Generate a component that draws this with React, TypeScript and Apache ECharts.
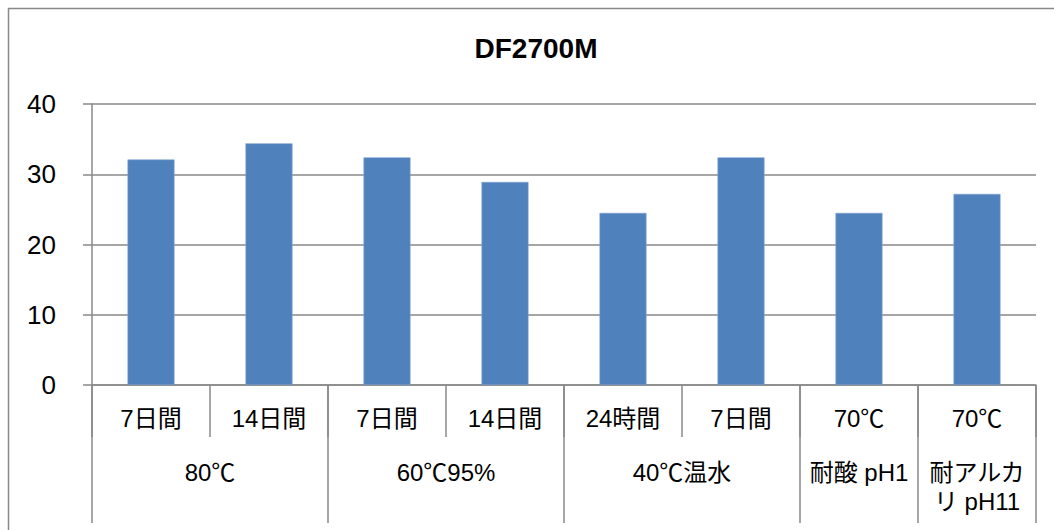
import React, { useEffect, useRef } from 'react';
import * as echarts from 'echarts';

const titleText = 'DF2700M';
const subCategories = ['7日間', '14日間', '7日間', '14日間', '24時間', '7日間', '70℃', '70℃'];
const values = [32.1, 34.4, 32.4, 28.9, 24.5, 32.4, 24.5, 27.2];
const groupLabels = ['80℃', '60℃95%', '40℃温水', '耐酸 pH1', '耐アルカ\nリ pH11'];
const groupSpans = [2, 2, 2, 1, 1];
const yMin = 0;
const yMax = 40;
const yStep = 10;

const FONT = "'Liberation Sans', Arial, 'Noto Sans CJK JP', sans-serif";
const GRAY = '#898989';

export default function App() {
  const ref = useRef<HTMLDivElement>(null);

  useEffect(() => {
    document.body.style.margin = '0';
    document.body.style.overflow = 'hidden';
    if (!ref.current) return;
    const chart = echarts.init(ref.current, undefined, { renderer: 'svg' });

    const bounds: number[] = [0];
    groupSpans.forEach((s) => bounds.push(bounds[bounds.length - 1] + s));
    const centers: number[] = [];
    for (let i = 0; i < groupSpans.length; i++) centers.push((bounds[i] + bounds[i + 1]) / 2);
    const total = bounds[bounds.length - 1];

    chart.setOption({
      animation: false,
      title: {
        text: titleText,
        left: 536,
        top: 34,
        textAlign: 'center',
        padding: 0,
        textStyle: { fontFamily: FONT, fontSize: 28, fontWeight: 'bold', color: '#000' },
      },
      graphic: [
        {
          type: 'rect',
          z: -10,
          shape: { x: 8.5, y: 8.5, width: 1200, height: 700 },
          style: { fill: 'none', stroke: GRAY, lineWidth: 1.5 },
        },
      ],
      grid: { left: 92, top: 104, right: 18, bottom: 145, containLabel: false },
      xAxis: [
        {
          type: 'category',
          data: subCategories,
          position: 'bottom',
          boundaryGap: true,
          axisLine: { show: true, lineStyle: { color: GRAY, width: 1.5 } },
          axisTick: { show: true, length: 52, interval: 0, lineStyle: { color: GRAY, width: 1.5 } },
          axisLabel: {
            interval: 0,
            margin: 21,
            fontFamily: FONT,
            fontSize: 24,
            color: '#000',
          },
          splitLine: { show: false },
        },
        {
          type: 'value',
          min: 0,
          max: total,
          position: 'bottom',
          axisLine: { show: false },
          splitLine: { show: false },
          axisTick: {
            show: true,
            length: 138,
            customValues: bounds,
            lineStyle: { color: GRAY, width: 1.5 },
          },
          axisLabel: {
            show: true,
            customValues: centers,
            margin: 73,
            fontFamily: FONT,
            fontSize: 24,
            lineHeight: 29,
            color: '#000',
            formatter: (v: number) => {
              const idx = centers.findIndex((c) => Math.abs(c - v) < 1e-6);
              return idx >= 0 ? groupLabels[idx] : '';
            },
          },
        },
      ],
      yAxis: {
        type: 'value',
        min: yMin,
        max: yMax,
        interval: yStep,
        axisLine: { show: true, lineStyle: { color: GRAY, width: 1.5 } },
        axisTick: { show: true, length: 9, lineStyle: { color: GRAY, width: 1.5 } },
        axisLabel: { margin: 36, fontFamily: FONT, fontSize: 26, color: '#000' },
        splitLine: { show: true, lineStyle: { color: GRAY, width: 1.5 } },
      },
      series: [
        {
          type: 'bar',
          data: values,
          barWidth: 47,
          xAxisIndex: 0,
          itemStyle: { color: '#4F81BD', borderColor: '#7FA3D0', borderWidth: 0.6 },
        },
      ],
    });

    return () => chart.dispose();
  }, []);

  return <div ref={ref} style={{ width: 1054, height: 530 }} />;
}
